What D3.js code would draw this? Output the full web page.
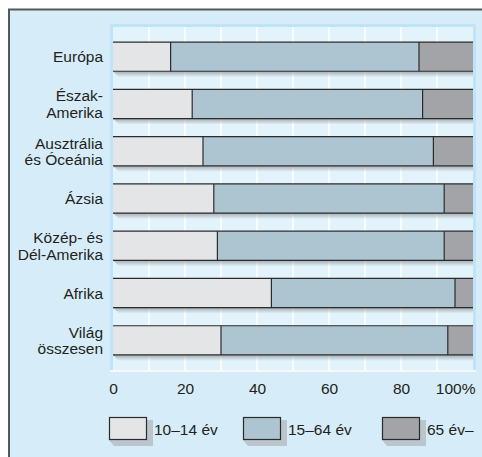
<!DOCTYPE html>
<html>
<head>
<meta charset="utf-8">
<script src="https://cdn.jsdelivr.net/npm/d3@7"></script>
<style>
  body { margin: 0; background: #fff; }
  svg { display: block; font-family: "Liberation Sans", Arial, sans-serif; }
</style>
</head>
<body>
<div class="chart"></div>
<script>
// kategóriák (több soros címkék '|' jellel)
const regions = ['Európa', 'Észak-|Amerika', 'Ausztrália|és Óceánia', 'Ázsia', 'Közép- és|Dél-Amerika', 'Afrika', 'Világ|összesen'];
// korcsoportok aránya (%)
const young = [16, 22, 25, 28, 29, 44, 30];
const working = [69, 64, 64, 64, 63, 51, 63];
const old = [15, 14, 11, 8, 8, 5, 7];
const ticks = [0, 20, 40, 60, 80, 100];
const groups = ['10–14 év', '15–64 év', '65 év–'];
const colors = ['#e4e5e7', '#adc4d1', '#a3a4a7'];

const W = 482, H = 457;
const plot = { left: 110, right: 476, top: 24, bottom: 372 };
const fontSize = '15.5px';

const svg = d3.select('.chart').append('svg')
  .attr('width', W).attr('height', H);

const defs = svg.append('defs');
const sg = defs.append('linearGradient').attr('id', 'shadow')
  .attr('x1', 0).attr('y1', 0).attr('x2', 0).attr('y2', 1);
sg.append('stop').attr('offset', 0).attr('stop-color', '#8f9499').attr('stop-opacity', 0.75);
sg.append('stop').attr('offset', 1).attr('stop-color', '#8f9499').attr('stop-opacity', 0);

// háttér + keret
svg.append('rect').attr('x', 8).attr('y', 9).attr('width', W - 8).attr('height', H - 9)
  .attr('fill', '#d6ecf8');
svg.append('path').attr('d', `M9,${H}V9.5H${W}`)
  .attr('fill', 'none').attr('stroke', '#55585b').attr('stroke-width', 2);

// rajzterület
svg.append('rect')
  .attr('x', plot.left).attr('y', plot.top)
  .attr('width', plot.right - plot.left).attr('height', plot.bottom - plot.top)
  .attr('fill', '#e3f3fb');
svg.append('path')
  .attr('d', `M${plot.left + 1.5},${plot.bottom}V${plot.top + 1.5}H${plot.right - 1.5}V${plot.bottom}`)
  .attr('fill', 'none').attr('stroke', '#bfe4f7').attr('stroke-width', 3);
svg.append('line')
  .attr('x1', plot.left).attr('x2', plot.right)
  .attr('y1', plot.bottom - 1).attr('y2', plot.bottom - 1)
  .attr('stroke', '#f2fafd').attr('stroke-width', 2);

const x = d3.scaleLinear().domain([0, 100]).range([113, 473]);
const y = d3.scaleBand().domain(regions).range([plot.top, plot.bottom + 1])
  .paddingInner(0.383).paddingOuter(0.383);

// rácsvonalak
svg.append('g').selectAll('line')
  .data(d3.range(10, 100, 10)).enter()
  .append('line')
  .attr('x1', d => x(d)).attr('x2', d => x(d))
  .attr('y1', plot.top + 3).attr('y2', plot.bottom - 2)
  .attr('stroke', '#fff').attr('stroke-width', 1.5);

const rows = regions.map((r, i) => ({ name: r, values: [young[i], working[i], old[i]] }));

const rowG = svg.append('g').selectAll('g')
  .data(rows).enter()
  .append('g');

// árnyék a sávok alatt
rowG.append('path')
  .attr('d', d => {
    const b = y(d.name) + y.bandwidth();
    return `M${x(0)},${b}L${x(0) + 6},${b + 6}H${x(100)}V${b}Z`;
  })
  .attr('fill', 'url(#shadow)');

// sáv szegmensek
rowG.each(function (d) {
  const g = d3.select(this);
  let acc = 0;
  const segs = d.values.map((v, k) => {
    const s = { x0: acc, x1: acc + v, k: k };
    acc += v;
    return s;
  });
  g.selectAll('rect').data(segs).enter()
    .append('rect')
    .attr('x', s => x(s.x0)).attr('width', s => x(s.x1) - x(s.x0))
    .attr('y', y(d.name)).attr('height', y.bandwidth())
    .attr('fill', s => colors[s.k]);
  // felső és alsó vonal
  g.selectAll('.hl').data([0, y.bandwidth()]).enter()
    .append('line').attr('class', 'hl')
    .attr('x1', x(0)).attr('x2', x(100))
    .attr('y1', o => y(d.name) + o).attr('y2', o => y(d.name) + o)
    .attr('stroke', '#2b2b2b').attr('stroke-width', 1.2);
  // elválasztók
  g.selectAll('.vl').data(segs.slice(0, 2)).enter()
    .append('line').attr('class', 'vl')
    .attr('x1', s => x(s.x1)).attr('x2', s => x(s.x1))
    .attr('y1', y(d.name)).attr('y2', y(d.name) + y.bandwidth())
    .attr('stroke', '#2b2b2b').attr('stroke-width', 1.2);
});

// kategória címkék
const lbl = svg.append('g').selectAll('text')
  .data(regions).enter()
  .append('text')
  .attr('text-anchor', 'end')
  .style('font-size', fontSize).style('fill', '#231f20');
lbl.each(function (d) {
  const lines = d.split('|');
  const c = y(d) + y.bandwidth() / 2;
  const t = d3.select(this);
  if (lines.length === 1) {
    t.append('tspan').attr('x', 103).attr('y', c + 5.5).text(lines[0]);
  } else {
    lines.forEach((l, i) => {
      t.append('tspan').attr('x', 103).attr('y', c - 2.5 + i * 16.5).text(l);
    });
  }
});

// x tengely
const xAxis = d3.axisBottom(x).tickValues(ticks).tickSize(0)
  .tickFormat(d => d === 100 ? '100%' : d);
const ax = svg.append('g')
  .attr('transform', 'translate(0,381)')
  .call(xAxis);
ax.select('.domain').remove();
ax.selectAll('text')
  .attr('y', 0).attr('dy', '0.85em')
  .style('font-size', fontSize).style('fill', '#231f20')
  .style('font-family', '"Liberation Sans", Arial, sans-serif');
ax.selectAll('.tick').filter(d => d === 100).select('text')
  .attr('text-anchor', 'end').attr('x', 2);

// jelmagyarázat
const legendX = [109, 243, 382];
const leg = svg.append('g').selectAll('g')
  .data(groups).enter()
  .append('g')
  .attr('transform', (d, i) => `translate(${legendX[i]},417)`);
leg.append('path')
  .attr('d', 'M38,3H44V29H5L0,23H38Z')
  .attr('fill', '#b4bcc2').attr('opacity', 0.8);
leg.append('rect')
  .attr('x', 0.5).attr('y', 0.5).attr('width', 37).attr('height', 22)
  .attr('fill', (d, i) => colors[i])
  .attr('stroke', '#2b2b2b').attr('stroke-width', 1.2);
leg.append('text')
  .attr('x', 45).attr('y', 18)
  .style('font-size', fontSize).style('fill', '#231f20')
  .text(d => d);
</script>
</body>
</html>
